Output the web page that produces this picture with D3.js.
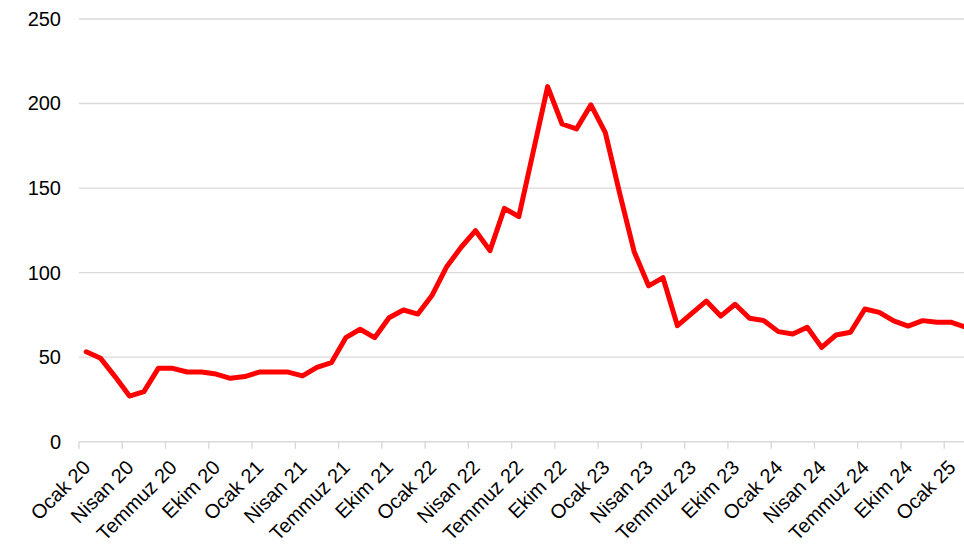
<!DOCTYPE html>
<html>
<head>
<meta charset="utf-8">
<script src="https://cdn.jsdelivr.net/npm/d3@7"></script>
<style>
  html, body { margin: 0; padding: 0; background: #fff; }
  svg { display: block; }
  text { font-family: "Liberation Sans", Arial, sans-serif; fill: #000; }
</style>
</head>
<body>
<svg id="chart" width="964" height="550"></svg>
<script>
// Monthly categories, Ocak 2020 – Şubat 2025
const months = [
  "Ocak 20","Şubat 20","Mart 20","Nisan 20","Mayıs 20","Haziran 20","Temmuz 20","Ağustos 20","Eylül 20","Ekim 20","Kasım 20","Aralık 20",
  "Ocak 21","Şubat 21","Mart 21","Nisan 21","Mayıs 21","Haziran 21","Temmuz 21","Ağustos 21","Eylül 21","Ekim 21","Kasım 21","Aralık 21",
  "Ocak 22","Şubat 22","Mart 22","Nisan 22","Mayıs 22","Haziran 22","Temmuz 22","Ağustos 22","Eylül 22","Ekim 22","Kasım 22","Aralık 22",
  "Ocak 23","Şubat 23","Mart 23","Nisan 23","Mayıs 23","Haziran 23","Temmuz 23","Ağustos 23","Eylül 23","Ekim 23","Kasım 23","Aralık 23",
  "Ocak 24","Şubat 24","Mart 24","Nisan 24","Mayıs 24","Haziran 24","Temmuz 24","Ağustos 24","Eylül 24","Ekim 24","Kasım 24","Aralık 24",
  "Ocak 25","Şubat 25"
];

// Series values, one per month
const values = [
  53.2, 49.3, 38.5, 27.0, 29.6, 43.4, 43.4, 41.2, 41.2, 40.0, 37.5, 38.5,
  41.2, 41.2, 41.2, 38.9, 44.0, 46.7, 61.5, 66.5, 61.5, 73.3, 77.9, 75.5,
  86.8, 103.5, 115.0, 124.8, 113.0, 138.0, 133.1, 171.5, 210.0, 187.9, 185.0, 199.2,
  182.8, 146.7, 112.4, 92.2, 97.0, 68.6, 75.9, 83.2, 74.3, 81.3, 73.0, 71.6,
  65.1, 63.7, 67.7, 55.8, 63.1, 64.7, 78.5, 76.5, 71.4, 68.4, 71.6, 70.6,
  70.6, 67.7
];

// Axis labels shown every third month
const xTickLabels = [
  "Ocak 20","Nisan 20","Temmuz 20","Ekim 20",
  "Ocak 21","Nisan 21","Temmuz 21","Ekim 21",
  "Ocak 22","Nisan 22","Temmuz 22","Ekim 22",
  "Ocak 23","Nisan 23","Temmuz 23","Ekim 23",
  "Ocak 24","Nisan 24","Temmuz 24","Ekim 24",
  "Ocak 25"
];
const yTicks = [0, 50, 100, 150, 200, 250];

const svg = d3.select("#chart");
const plotLeft = 79, bandW = 14.42;
const plotBottom = 441.7, plotTop = 19;
const plotRight = plotLeft + months.length * bandW;

const x = d3.scaleBand()
  .domain(months)
  .range([plotLeft, plotRight])
  .padding(0);

const y = d3.scaleLinear()
  .domain([0, 250])
  .range([plotBottom, plotTop]);

// Horizontal gridlines
svg.append("g")
  .selectAll("line")
  .data(yTicks.filter(d => d > 0))
  .join("line")
  .attr("x1", plotLeft)
  .attr("x2", plotRight)
  .attr("y1", d => y(d))
  .attr("y2", d => y(d))
  .attr("stroke", "#d9d9d9")
  .attr("stroke-width", 1.4);

// Y axis labels
const yAxis = d3.axisLeft(y).tickValues(yTicks).tickSize(0).tickPadding(18);
const gy = svg.append("g").attr("transform", `translate(${plotLeft},0)`).call(yAxis);
gy.select(".domain").remove();
gy.selectAll("text")
  .style("font-family", "'Liberation Sans', Arial, sans-serif")
  .style("font-size", "20px")
  .attr("fill", "#000");

// X axis: baseline with ticks between every third category
const tickBounds = months.filter((m, i) => i % 3 === 0);
const gx = svg.append("g");
gx.append("line")
  .attr("x1", plotLeft).attr("x2", plotRight)
  .attr("y1", plotBottom).attr("y2", plotBottom)
  .attr("stroke", "#d9d9d9").attr("stroke-width", 1.4);
gx.selectAll("line.tick")
  .data(tickBounds)
  .join("line")
  .attr("class", "tick")
  .attr("x1", d => x(d)).attr("x2", d => x(d))
  .attr("y1", plotBottom).attr("y2", plotBottom + 7)
  .attr("stroke", "#d9d9d9").attr("stroke-width", 1.4);

gx.selectAll("text")
  .data(xTickLabels)
  .join("text")
  .attr("transform", d => `translate(${x(d) + x.bandwidth() / 2 + 0.5},${plotBottom + 22}) rotate(-45)`)
  .attr("text-anchor", "end")
  .attr("dy", "0.35em")
  .style("font-size", "20px")
  .text(d => d);

// Series line
const line = d3.line()
  .x((d, i) => x(months[i]) + x.bandwidth() / 2)
  .y(d => y(d));

svg.append("path")
  .datum(values)
  .attr("d", line)
  .attr("fill", "none")
  .attr("stroke", "#ff0000")
  .attr("stroke-width", 5)
  .attr("stroke-linejoin", "round")
  .attr("stroke-linecap", "round");
</script>
</body>
</html>
